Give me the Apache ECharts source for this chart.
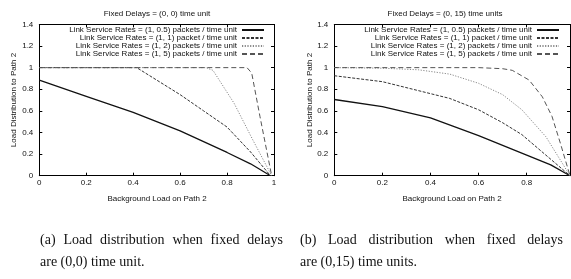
<!DOCTYPE html>
<html>
<head>
<meta charset="utf-8">
<script src="https://cdn.jsdelivr.net/npm/echarts@6/dist/echarts.min.js"></script>
<style>html,body{margin:0;padding:0;background:#fff;}#c{width:571px;height:279px;}</style>
</head>
<body>
<div id="c"></div>
<script>
// ---- data ----
var seriesNames = [
  'Link Service Rates = (1, 0.5) packets / time unit',
  'Link Service Rates = (1, 1) packet / time unit',
  'Link Service Rates = (1, 2) packets / time unit',
  'Link Service Rates = (1, 5) packets / time unit'
];
var yTicks = [0, 0.2, 0.4, 0.6, 0.8, 1, 1.2, 1.4];
var xTicks = [0, 0.2, 0.4, 0.6, 0.8, 1];

// (a) fixed delays (0,0)
var a_r05 = [[0,0.885],[0.2,0.735],[0.4,0.585],[0.6,0.415],[0.8,0.215],[0.9,0.11],[0.985,0]];
var a_r1  = [[0,1],[0.415,1],[0.6,0.75],[0.7,0.6],[0.8,0.45],[0.9,0.22],[0.985,0]];
var a_r2  = [[0,1],[0.71,1],[0.74,0.975],[0.83,0.67],[0.91,0.33],[0.99,0]];
var a_r5  = [[0,1],[0.885,1],[0.905,0.95],[0.94,0.55],[0.99,0]];

// (b) fixed delays (0,15)
var b_r05 = [[0,0.705],[0.2,0.64],[0.4,0.535],[0.6,0.37],[0.8,0.19],[0.9,0.1],[0.98,0]];
var b_r1  = [[0,0.925],[0.2,0.87],[0.48,0.715],[0.6,0.61],[0.7,0.49],[0.78,0.38],[0.88,0.19],[0.98,0]];
var b_r2  = [[0,1],[0.2,0.995],[0.35,0.98],[0.48,0.94],[0.6,0.855],[0.7,0.75],[0.78,0.61],[0.88,0.36],[0.93,0.18],[0.98,0]];
var b_r5  = [[0,1],[0.6,1],[0.7,0.99],[0.74,0.975],[0.81,0.885],[0.865,0.73],[0.905,0.55],[0.94,0.3],[0.98,0]];

var titleA = 'Fixed Delays = (0, 0) time unit';
var titleB = 'Fixed Delays = (0, 15) time units';
var xName = 'Background Load on Path 2';
var yName = 'Load Distribution to Path 2';
var capA = ['(a) Load distribution when fixed delays', 'are (0,0) time unit.'];
var capB = ['(b) Load distribution when fixed delays', 'are (0,15) time units.'];

// ---- styles ----
var FONT = 'Liberation Sans';
var SERIF = 'Liberation Serif';
var FS = 8;
var lineStyles = [
  {color:'#111', width:1.3, type:'solid'},
  {color:'#333', width:1, type:[3,1.5]},
  {color:'#888', width:1, type:[1.2,1.5]},
  {color:'#555', width:1, type:[5,3]}
];

function xAx(grid, pos, max, showLabel){
  return {
    type:'value', gridIndex:grid, position:pos, min:0, max:max, interval:0.2,
    axisLine:{show:true, onZero:false, lineStyle:{color:'#000', width:1}},
    axisTick:{show:true, inside:true, length:3, lineStyle:{color:'#000'}},
    splitLine:{show:false},
    axisLabel:{show:showLabel, margin:3, fontSize:FS, fontFamily:FONT, color:'#111', showMaxLabel: max === 1}
  };
}
function yAx(grid, pos, showLabel){
  return {
    type:'value', gridIndex:grid, position:pos, min:0, max:1.4, interval:0.2,
    axisLine:{show:true, onZero:false, lineStyle:{color:'#000', width:1}},
    axisTick:{show:true, inside:true, length:3, lineStyle:{color:'#000'}},
    splitLine:{show:false},
    axisLabel:{show:showLabel, margin:6, fontSize:FS, fontFamily:FONT, color:'#111'}
  };
}
function mk(name, data, idx, axis){
  return {
    type:'line', name:name, data:data, xAxisIndex:axis, yAxisIndex:axis,
    showSymbol:false, symbol:'none', legendIcon:'none', smooth:false, animation:false,
    itemStyle:{color:lineStyles[idx].color, opacity:0},
    lineStyle:lineStyles[idx]
  };
}

var chart = echarts.init(document.getElementById('c'), null, {renderer:'canvas'});
var txt = function(t, x, y, size, align, rot, fam){
  return {type:'text', x:x, y:y, rotation:rot||0,
    style:{text:t, fontSize:size, fontFamily:fam||FONT, fill:'#111', align:align||'center', verticalAlign:'middle'}};
};
// justified caption line: words placed to span a given width
var measureCtx = document.createElement('canvas').getContext('2d');
function justified(line, x0, width, y, size){
  measureCtx.font = size + 'px ' + SERIF;
  var words = line.split(' ');
  var total = 0;
  words.forEach(function(w){ total += measureCtx.measureText(w).width; });
  var gap = (width - total) / (words.length - 1);
  var out = [], x = x0;
  words.forEach(function(w){
    out.push(txt(w, x, y, size, 'left', 0, SERIF));
    x += measureCtx.measureText(w).width + gap;
  });
  return out;
}
var legendCommon = {
  orient:'vertical', align:'right', itemWidth:22, itemHeight:7.8, itemGap:0, padding:0,
  textStyle:{fontSize:FS, lineHeight:7.8, fontFamily:FONT, color:'#111', padding:[0,0,0,0]},
  itemStyle:{opacity:0},
  selectedMode:false, data:seriesNames
};

var capSize = 14;
var graphics = [
  txt(titleA, 157, 14, FS), txt(titleB, 445, 14, FS),
  txt(xName, 157, 199, FS), txt(xName, 452, 199, FS),
  txt(yName, 13.5, 100, FS, 'center', Math.PI/2), txt(yName, 310, 100, FS, 'center', Math.PI/2),
  txt(capA[1], 40, 262, capSize, 'left', 0, SERIF),
  txt(capB[1], 300, 262, capSize, 'left', 0, SERIF)
].concat(justified(capA[0], 40, 243, 240, capSize))
 .concat(justified(capB[0], 300, 263, 240, capSize));

chart.setOption({
  animation:false,
  backgroundColor:'#fff',
  grid:[
    {left:39.3, right:297, top:24.4, bottom:103.3},
    {left:334.3, right:1, top:24.4, bottom:103.3}
  ],
  xAxis:[ xAx(0,'bottom',1,true), xAx(0,'top',1,false), xAx(1,'bottom',0.98,true), xAx(1,'top',0.98,false) ],
  yAxis:[ yAx(0,'left',true), yAx(0,'right',false), yAx(1,'left',true), yAx(1,'right',false) ],
  legend:[
    Object.assign({right:306, top:26}, legendCommon),
    Object.assign({right:11, top:26}, legendCommon)
  ],
  series:[
    mk(seriesNames[0], a_r05, 0, 0), mk(seriesNames[1], a_r1, 1, 0),
    mk(seriesNames[2], a_r2, 2, 0), mk(seriesNames[3], a_r5, 3, 0),
    mk(seriesNames[0], b_r05, 0, 2), mk(seriesNames[1], b_r1, 1, 2),
    mk(seriesNames[2], b_r2, 2, 2), mk(seriesNames[3], b_r5, 3, 2)
  ],
  graphic:graphics
});
</script>
</body>
</html>
